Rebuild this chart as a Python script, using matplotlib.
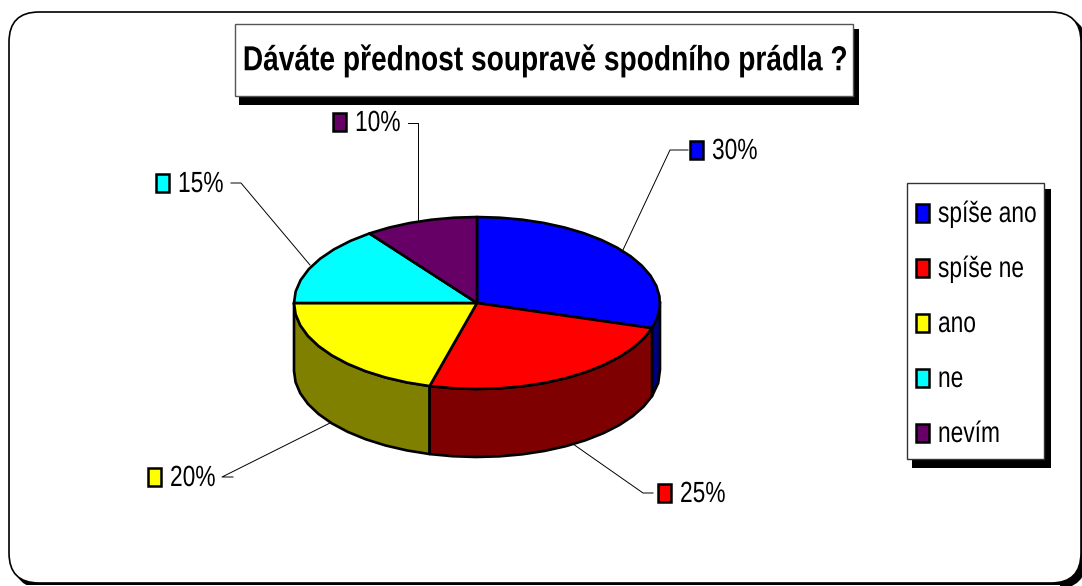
from __future__ import annotations

import numpy as np
import matplotlib
matplotlib.use("Agg")
import matplotlib.pyplot as plt
from matplotlib.patches import FancyBboxPatch, Polygon, Rectangle
from matplotlib.patheffects import AbstractPathEffect
from matplotlib.transforms import Affine2D

TITLE = "Dáváte přednost soupravě spodního prádla ?"
categories = ["spíše ano", "spíše ne", "ano", "ne", "nevím"]
values = [30, 25, 20, 15, 10]
top_colors = ["#0000ff", "#ff0000", "#ffff00", "#00ffff", "#660066"]
side_colors = ["#00007f", "#7f0000", "#7f7f00", "#007f7f", "#330033"]

FONT = "Liberation Sans"
CX, CY, RX, RY, DEPTH = 477, 303, 183, 86, 68
W, H = 1082, 586


class SqueezeX(AbstractPathEffect):
    # the source text is a narrow Arial, no narrow font here so squeeze it
    def __init__(self, sx, x0):
        super().__init__()
        self.sx = sx
        self.x0 = x0

    def draw_path(self, renderer, gc, tpath, affine, rgbFace=None):
        squeeze = Affine2D().translate(-self.x0, 0).scale(self.sx, 1).translate(self.x0, 0)
        renderer.draw_path(gc, tpath, affine + squeeze, rgbFace)


def ell(deg):
    # rough correction for the 3d projection of the original pie
    deg = np.interp(deg, [0, 108, 198, 270, 360], [0, 107, 195, 270, 360])
    a = np.radians(deg)
    return CX + RX * np.sin(a), CY - RY * np.cos(a)


def arc(a0, a1):
    # coarse steps, the original pie outline is visibly faceted
    n = max(2, int(abs(a1 - a0) / 7) + 1)
    return np.linspace(a0, a1, n)


def label(ax, x, y, s, sx=0.78, size=21, ha="left", **kw):
    ax.text(x, y - 2, s, family=FONT, fontsize=size, ha=ha, va="center_baseline",
            color="black", path_effects=[SqueezeX(sx, x)], **kw)


def main() -> None:
    fig = plt.figure(figsize=(W / 100, H / 100), dpi=100)
    ax = fig.add_axes([0, 0, 1, 1])
    ax.set_xlim(0, W)
    ax.set_ylim(H, 0)
    ax.axis("off")

    # outer frame, shadow only shows at the corner
    for off, fc in [(5, "black"), (0, "white")]:
        ax.add_patch(FancyBboxPatch((9 + off, 12 + off), 1072, 571,
                                    boxstyle="round,pad=0,rounding_size=30",
                                    fc=fc, ec="black", lw=1.2))
    ax.add_patch(Rectangle((0, 584.5), 1060, 3, fc="white", ec="none"))

    # title box
    ax.add_patch(Rectangle((239, 29), 620, 76, fc="black", ec="none"))
    ax.add_patch(Rectangle((235, 24), 618, 72, fc="white", ec="#555555", lw=1))
    label(ax, 545, 59, TITLE, sx=0.81, size=25, ha="center", fontweight="bold")

    # pie
    edges = np.cumsum([0] + values) / sum(values) * 360
    for i in [0, 2, 1]:
        a0, a1 = max(edges[i], 90), min(edges[i + 1], 270)
        xs, ys = ell(arc(a0, a1))
        pts = list(zip(xs, ys)) + list(zip(xs[::-1], ys[::-1] + DEPTH))
        ax.add_patch(Polygon(pts, fc=side_colors[i], ec="black", lw=1.9,
                             joinstyle="round"))
    for i in range(len(values)):
        xs, ys = ell(arc(edges[i], edges[i + 1]))
        pts = [(CX, CY)] + list(zip(xs, ys))
        ax.add_patch(Polygon(pts, fc=top_colors[i], ec="black", lw=1.9,
                             joinstyle="round"))

    # data labels with leader lines
    leaders = [
        ([688, 670, 622], [150, 150, 252], 690, 150),
        ([653, 643, 573], [493, 493, 444], 658, 493),
        ([233, 222, 330], [477, 477, 423], 148, 477),
        ([231, 241, 310], [183, 183, 265], 156, 183),
        ([408, 418, 418], [123, 123, 220], 333, 122),
    ]
    for i, (lx, ly, mx, my) in enumerate(leaders):
        ax.plot(lx, ly, color="black", lw=0.7)
        ax.add_patch(Rectangle((mx, my - 9), 13, 18, fc=top_colors[i], ec="black", lw=1.8))
        label(ax, mx + 22, my, f"{values[i]}%")

    # legend
    ax.add_patch(Rectangle((912, 189), 139, 279, fc="black", ec="none"))
    ax.add_patch(Rectangle((907, 183), 137, 276, fc="white", ec="#333333", lw=1))
    for i, cat in enumerate(categories):
        y = 213 + 55 * i
        ax.add_patch(Rectangle((916, y - 9), 13, 18, fc=top_colors[i], ec="black", lw=1.8))
        label(ax, 938, y, cat)

    fig.savefig("out.png", dpi=100)
    plt.close(fig)


if __name__ == "__main__":
    main()
